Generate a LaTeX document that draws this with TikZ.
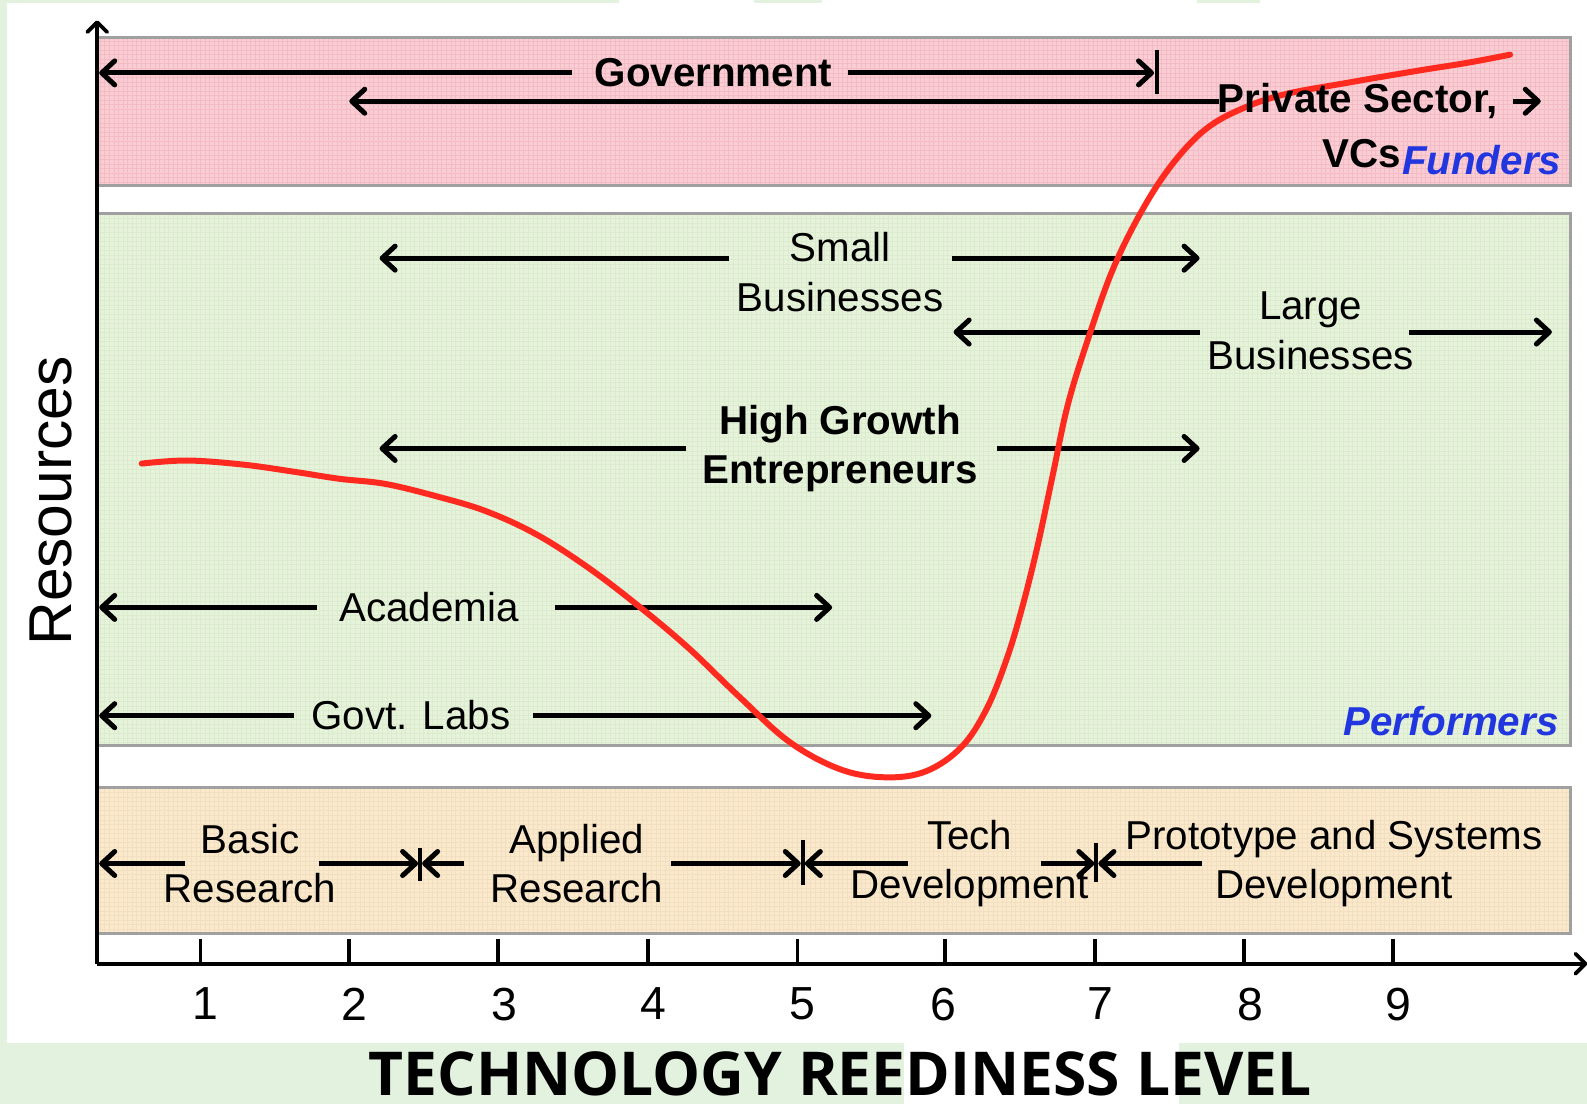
\documentclass[tikz,border=0pt]{standalone}
\usepackage{fontspec}
\setmainfont{Liberation Sans}
\newfontfamily\titlefont{Open Sans}
\usetikzlibrary{arrows.meta}
\definecolor{bggreen}{HTML}{E2F2DF}
\definecolor{pinkfill}{HTML}{F9CDD3}
\definecolor{pinkgrid}{HTML}{F3BCC4}
\definecolor{greenfill}{HTML}{E6F2DA}
\definecolor{greengrid}{HTML}{DBEBCE}
\definecolor{peachfill}{HTML}{FBE9CB}
\definecolor{peachgrid}{HTML}{F2DFC1}
\definecolor{bandedge}{HTML}{A0A0A0}
\definecolor{curvered}{HTML}{FF2A1F}
\definecolor{labelblue}{HTML}{2236E0}
\begin{document}
\begin{tikzpicture}[x=1bp,y=1bp,scale=1.0121,transform shape,
  arr/.style={line width=5bp,-{Straight Barb[length=13bp,width=24bp,round]}},
  axisline/.style={line width=3.8bp},
  barline/.style={line width=4bp},
  band/.style={draw=bandedge,line width=3bp},
  lbl/.style={font=\fontsize{40}{49}\selectfont,inner sep=0pt,align=center,text=black},
  blbl/.style={lbl,font=\fontsize{40}{49}\selectfont\bfseries},
  bluelbl/.style={lbl,font=\fontsize{40}{49}\selectfont\bfseries\itshape,text=labelblue},
  ticklbl/.style={font=\fontsize{46}{46}\selectfont,inner sep=0pt},
  redcurve/.style={draw=curvered,line width=6bp,line cap=round,line join=round}]
\useasboundingbox (0,0) rectangle (1568,-1090.8);
% background
\fill[bggreen] (0,0) rectangle (1568,-1090.8);
\fill[white] (7,-3) rectangle (1568,-1030);
\fill[white] (893,-1030) rectangle (1165,-1090.8);
\fill[white] (612,0) rectangle (745,-3);
\fill[white] (812,0) rectangle (1183,-3);
\fill[white] (1245,0) rectangle (1568,-3);
% bands
\fill[pinkfill] (96,-37) rectangle (1552,-183);
\begin{scope}
\clip (96,-37) rectangle (1552,-183);
\draw[pinkgrid,line width=0.6bp,step=4.5] (96,-190) grid (1552,-30);
\end{scope}
\draw[band] (96,-37) rectangle (1552,-183);
\fill[greenfill] (96,-211) rectangle (1552,-737);
\begin{scope}
\clip (96,-211) rectangle (1552,-737);
\draw[greengrid,line width=0.6bp,step=4.5] (96,-740) grid (1552,-205);
\end{scope}
\draw[band] (96,-211) rectangle (1552,-737);
\fill[peachfill] (96,-778) rectangle (1552,-922);
\begin{scope}
\clip (96,-778) rectangle (1552,-922);
\draw[peachgrid,line width=0.6bp,step=4.5] (96,-925) grid (1552,-775);
\end{scope}
\draw[band] (96,-778) rectangle (1552,-922);
% axes
\coordinate (origin) at (96,-952);
\coordinate (ytop) at (96,-20);
\coordinate (xend) at (1568,-952);
\draw[axisline,-{Straight Barb[length=10bp,width=20bp,round]}] (origin) -- (ytop);
\draw[axisline,-{Straight Barb[length=10bp,width=20bp,round]}] (origin) -- (xend);
\foreach \i/\x/\lx in {1/198/203,2/345/350,3/492/498,4/640/646,5/788/793,6/934/932,7/1082/1087,8/1229/1235,9/1376/1382}{
  \draw[axisline] (\x,-952) -- (\x,-928);
  \node[ticklbl] (t\i) at (\lx,-992) {\i};
}
\node[font=\fontsize{60}{60}\selectfont,inner sep=0pt,rotate=90] (res) at (50,-495) {Resources};
\node[font=\titlefont\fontsize{60}{60}\selectfont\bfseries,inner sep=0pt] (title) at (830,-1061) {TECHNOLOGY REEDINESS LEVEL};
% Funders arrows
\coordinate (govA) at (565,-72); \coordinate (govL) at (98,-72);
\coordinate (govB) at (838,-72); \coordinate (govR) at (1140,-72);
\draw[arr] (govA) -- (govL);
\draw[arr] (govB) -- (govR);
\coordinate (govbarT) at (1143,-49); \coordinate (govbarB) at (1143,-93);
\draw[barline] (govbarT) -- (govbarB);
\coordinate (privL) at (345,-100); \coordinate (privA) at (1204,-100);
\draw[arr] (privA) -- (privL);
\coordinate (privB) at (1495,-100); \coordinate (privR) at (1522,-100);
\draw[arr] (privB) -- (privR);
% Performers arrows
\coordinate (sbA) at (720,-255); \coordinate (sbL) at (375,-255);
\coordinate (sbB) at (940,-255); \coordinate (sbR) at (1185,-255);
\draw[arr] (sbA) -- (sbL); \draw[arr] (sbB) -- (sbR);
\coordinate (lbA) at (1185,-328); \coordinate (lbL) at (942,-328);
\coordinate (lbB) at (1392,-328); \coordinate (lbR) at (1533,-328);
\draw[arr] (lbA) -- (lbL); \draw[arr] (lbB) -- (lbR);
\coordinate (hgA) at (678,-443); \coordinate (hgL) at (375,-443);
\coordinate (hgB) at (985,-443); \coordinate (hgR) at (1185,-443);
\draw[arr] (hgA) -- (hgL); \draw[arr] (hgB) -- (hgR);
\coordinate (acA) at (313,-600); \coordinate (acL) at (98,-600);
\coordinate (acB) at (548,-600); \coordinate (acR) at (822,-600);
\draw[arr] (acA) -- (acL); \draw[arr] (acB) -- (acR);
\coordinate (glA) at (290,-707); \coordinate (glL) at (98,-707);
\coordinate (glB) at (527,-707); \coordinate (glR) at (920,-707);
\draw[arr] (glA) -- (glL); \draw[arr] (glB) -- (glR);
% Stage arrows
\coordinate (brA) at (183,-853); \coordinate (brL) at (98,-853);
\coordinate (brB) at (315,-853); \coordinate (brR) at (413,-853);
\draw[arr] (brA) -- (brL); \draw[arr] (brB) -- (brR);
\coordinate (bar1T) at (415,-838); \coordinate (bar1B) at (415,-870);
\draw[barline] (bar1T) -- (bar1B);
\coordinate (arA) at (458,-853); \coordinate (arL) at (417,-853);
\coordinate (arB) at (663,-853); \coordinate (arR) at (791,-853);
\draw[arr] (arA) -- (arL); \draw[arr] (arB) -- (arR);
\coordinate (bar2T) at (793,-830); \coordinate (bar2B) at (793,-874);
\draw[barline] (bar2T) -- (bar2B);
\coordinate (tdA) at (897,-853); \coordinate (tdL) at (795,-853);
\coordinate (tdB) at (1028,-853); \coordinate (tdR) at (1081,-853);
\draw[arr] (tdA) -- (tdL); \draw[arr] (tdB) -- (tdR);
\coordinate (bar3T) at (1083,-833); \coordinate (bar3B) at (1083,-871);
\draw[barline] (bar3T) -- (bar3B);
\coordinate (psA) at (1187,-853); \coordinate (psL) at (1085,-853);
\draw[arr] (psA) -- (psL);
% red curve
\draw[redcurve] plot[smooth,tension=0.6] coordinates {
 (140,-458) (185,-455) (240,-459) (290,-466) (335,-473) (380,-478)
 (430,-490) (480,-505) (530,-528) (580,-560) (630,-598) (680,-640)
 (730,-688) (780,-733) (830,-760) (875,-768) (915,-762) (950,-738)
 (975,-700) (995,-650) (1010,-600) (1025,-540) (1040,-470) (1055,-400)
 (1075,-335) (1100,-265) (1130,-205) (1160,-160) (1192,-127) (1228,-107)
 (1270,-93) (1330,-82) (1400,-70) (1450,-62) (1492,-54)};
% labels
\node[blbl] (gov) at (705,-72) {Government};
\node[blbl,anchor=west] (priv) at (1203,-100) {Private Sector,};
\node[blbl,anchor=east] (vcs) at (1384,-152) {VCs};
\node[bluelbl,anchor=west] (fund) at (1385,-158) {Funders};
\node[lbl] (small) at (830,-269) {Small\\Businesses};
\node[lbl] (large) at (1295,-327) {Large\\Businesses};
\node[blbl] (hge) at (830,-443) {High Growth\\Entrepreneurs};
\node[lbl] (acad) at (424,-600) {Academia};
\node[lbl] (labs) at (406,-707) {Govt. Labs};
\node[bluelbl,anchor=east] (perf) at (1540,-712) {Performers};
\node[lbl] (basic) at (247,-853) {Basic\\Research};
\node[lbl] (applied) at (570,-853) {Applied\\Research};
\node[lbl] (tech) at (958,-853) {Tech\\Development};
\node[lbl] (proto) at (1318,-853) {Prototype and Systems\\Development};
\end{tikzpicture}
\end{document}
